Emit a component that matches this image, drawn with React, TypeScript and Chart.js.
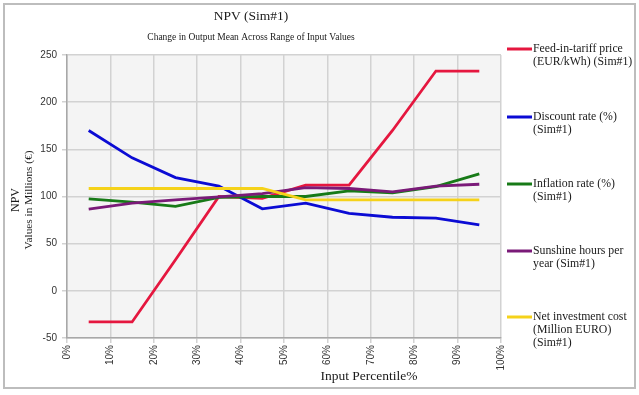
import React, { useEffect, useRef } from "react";
import { Chart, registerables } from "chart.js";

Chart.register(...registerables);

const percentiles = [5, 15, 25, 35, 45, 55, 65, 75, 85, 95];
const feedInTariff = [-33, -33, 33, 100, 98, 112, 112, 170, 233, 233];
const discountRate = [170, 141, 120, 111, 87, 93, 82, 78, 77, 70];
const inflationRate = [97.5, 94, 89.5, 99, 100, 100, 106, 104, 110.5, 124];
const sunshineHours = [86.5, 93, 96.5, 99.5, 103, 109.5, 108.5, 105, 111, 113];
const netInvestment = [108.5, 108.5, 108.5, 108.5, 108.5, 96.5, 96.5, 96.5, 96.5, 96.5];

const seriesValues = [feedInTariff, discountRate, inflationRate, sunshineHours, netInvestment];
const seriesLabels = [
  ["Feed-in-tariff price", "(EUR/kWh) (Sim#1)"],
  ["Discount rate (%)", "(Sim#1)"],
  ["Inflation rate (%)", "(Sim#1)"],
  ["Sunshine hours per", "year (Sim#1)"],
  ["Net investment cost", "(Million EURO)", "(Sim#1)"],
];
const seriesColors = ["#e5173f", "#0b0bd4", "#177a17", "#7a1a78", "#f5d21a"];

const titleText = "NPV (Sim#1)";
const subtitleText = "Change in Output Mean Across Range of Input Values";
const yTitleLines = ["NPV", "Values in Millions (€)"];
const xTitleText = "Input Percentile%";
const xMin = 0;
const xMax = 100;
const xStep = 10;
const yMin = -50;
const yMax = 250;
const yStep = 50;

const SERIF = "'Liberation Serif', 'Times New Roman', serif";
const SANS = "'Liberation Sans', Arial, sans-serif";

const decorPlugin = {
  id: "decor",
  beforeDraw(chart: any) {
    const { ctx, chartArea } = chart;
    ctx.save();
    ctx.fillStyle = "#ffffff";
    ctx.fillRect(0, 0, chart.width, chart.height);
    ctx.fillStyle = "#f4f4f4";
    ctx.fillRect(chartArea.left, chartArea.top, chartArea.right - chartArea.left, chartArea.bottom - chartArea.top);
    ctx.restore();
  },
  afterDraw(chart: any) {
    const { ctx } = chart;
    ctx.save();
    ctx.strokeStyle = "#bdbdbd";
    ctx.lineWidth = 2;
    ctx.strokeRect(4, 4, 631, 384);

    ctx.fillStyle = "#1a1a1a";
    ctx.textAlign = "center";
    ctx.textBaseline = "middle";
    ctx.font = `13.5px ${SERIF}`;
    ctx.fillText(titleText, 251, 16);
    ctx.font = `9.5px ${SERIF}`;
    ctx.fillText(subtitleText, 251, 37);

    ctx.font = `13.5px ${SERIF}`;
    ctx.fillText(xTitleText, 369, 376);

    ctx.save();
    ctx.translate(0, 200);
    ctx.rotate(-Math.PI / 2);
    ctx.font = `12px ${SERIF}`;
    ctx.fillText(yTitleLines[0], 0, 16);
    ctx.font = `11.3px ${SERIF}`;
    ctx.fillText(yTitleLines[1], 0, 29);
    ctx.restore();

    const itemY = [49, 117, 184, 251, 317];
    ctx.textAlign = "left";
    ctx.font = `11.8px ${SERIF}`;
    seriesLabels.forEach((lines, i) => {
      const y = itemY[i];
      ctx.strokeStyle = seriesColors[i];
      ctx.lineWidth = 3;
      ctx.beginPath();
      ctx.moveTo(507, y);
      ctx.lineTo(532, y);
      ctx.stroke();
      lines.forEach((t, j) => {
        ctx.fillText(t, 533, y + j * 13);
      });
    });
    ctx.restore();
  },
};

export default function App() {
  const canvasRef = useRef<HTMLCanvasElement | null>(null);

  useEffect(() => {
    document.body.style.margin = "0";
    const canvas = canvasRef.current;
    if (!canvas) return;
    const datasets = seriesValues.map((vals, i) => ({
      label: seriesLabels[i].join(" "),
      data: vals.map((v, k) => ({ x: percentiles[k], y: v })),
      borderColor: seriesColors[i],
      backgroundColor: seriesColors[i],
      borderWidth: 2.8,
      pointRadius: 0,
      tension: 0,
      fill: false,
      order: seriesValues.length - i,
    }));
    const chart = new Chart(canvas, {
      type: "line",
      data: { datasets },
      options: {
        responsive: false,
        animation: false,
        devicePixelRatio: 1,
        layout: { padding: { top: 55, right: 138, left: 0, bottom: 0 } },
        plugins: {
          legend: { display: false },
          title: { display: false },
          tooltip: { enabled: false },
        },
        scales: {
          x: {
            type: "linear",
            min: xMin,
            max: xMax,
            afterFit(scale: any) {
              scale.height = 57;
            },
            ticks: {
              stepSize: xStep,
              minRotation: 90,
              maxRotation: 90,
              padding: 2,
              color: "#333",
              font: { family: SANS, size: 10 },
              callback: (v: any) => `${v}%`,
            },
            grid: { color: "#d2d2d2", lineWidth: 1.5, tickLength: 5 },
            border: { color: "#a8a8a8", width: 1.5 },
          },
          y: {
            type: "linear",
            min: yMin,
            max: yMax,
            afterFit(scale: any) {
              scale.width = 67;
            },
            ticks: {
              stepSize: yStep,
              padding: 5,
              color: "#333",
              font: { family: SANS, size: 10 },
            },
            grid: { color: "#d2d2d2", lineWidth: 1.5, tickLength: 5 },
            border: { color: "#a8a8a8", width: 1.5 },
          },
        },
      },
      plugins: [decorPlugin],
    });
    return () => chart.destroy();
  }, []);

  return (
    <div style={{ width: 639, height: 395 }}>
      <canvas ref={canvasRef} width={639} height={395} />
    </div>
  );
}
